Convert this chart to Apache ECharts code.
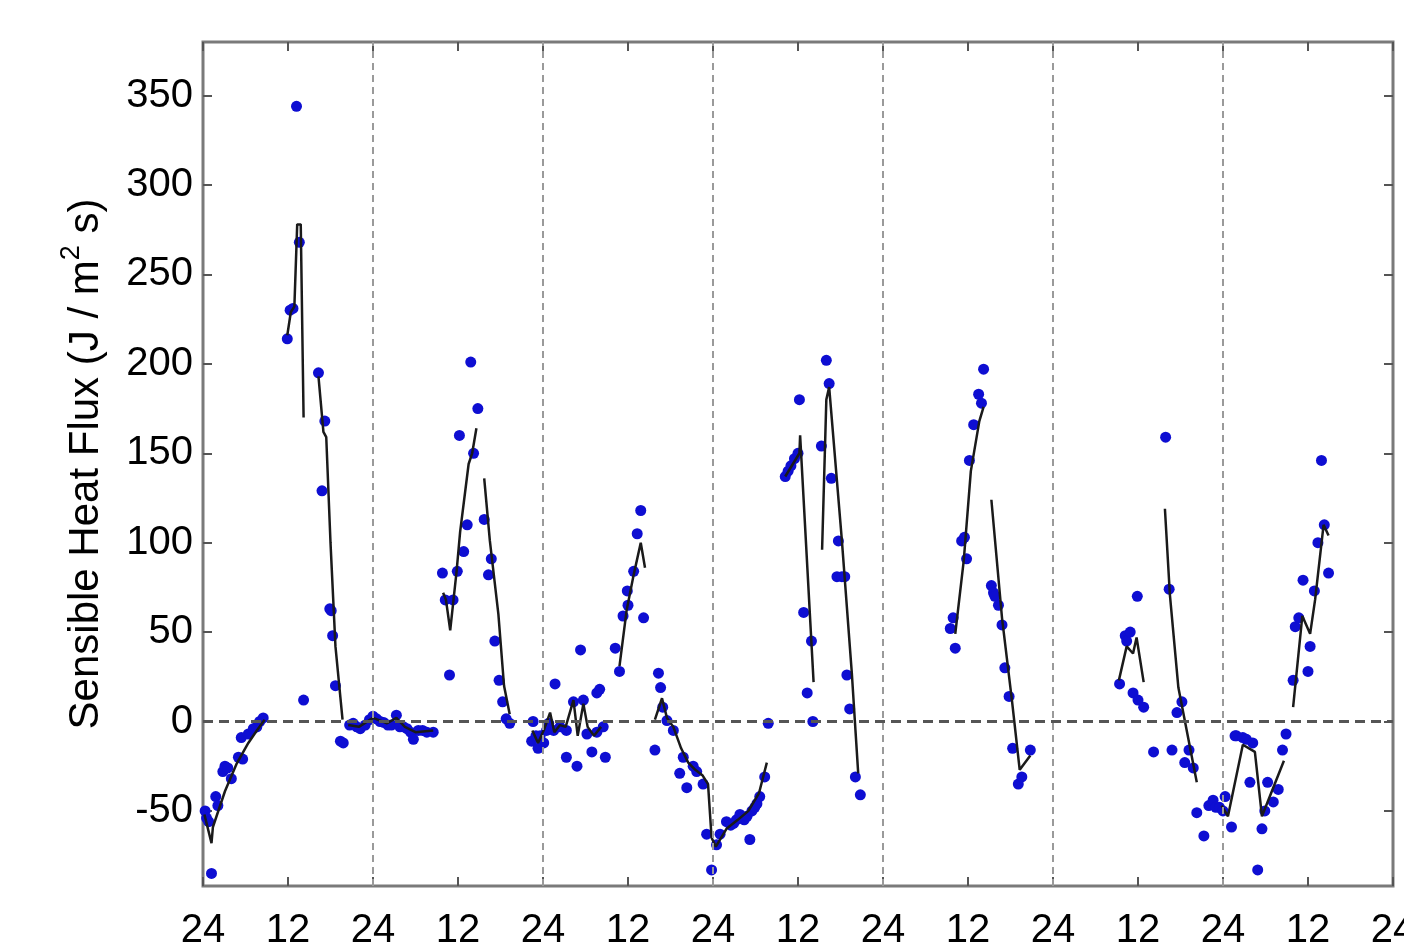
<!DOCTYPE html>
<html lang="en">
<head>
<meta charset="UTF-8">
<title>Sensible Heat Flux</title>
<script src="https://cdn.jsdelivr.net/npm/echarts@6/dist/echarts.min.js"></script>
<style>
    html, body { margin: 0; padding: 0; background: #fff; }
    #chart { width: 1404px; height: 950px; }
</style>
</head>
<body>
<div id="chart"></div>
<script>
// y ticks and day boundaries (hours from start)
var yTicks = [-50, 0, 50, 100, 150, 200, 250, 300, 350];
var dayLines = [24, 48, 72, 96, 120, 144];

// observed flux (blue dots): [hour, flux]
var obsDay1 = [[0.3,-50],[0.5,-54],[0.8,-56],[1.2,-85],[1.8,-42],[2.1,-47],[2.8,-28],[3.1,-25],[3.5,-26],[4.0,-32],
    [5.0,-20],[5.6,-21],[5.4,-9],[6.4,-7],[7.1,-4],[7.6,-3],[8.0,0],[8.5,2],
    [11.9,214],[12.3,230],[12.7,231],[13.2,344],[13.6,268],[14.2,12],[16.3,195],[16.8,129],[17.2,168],
    [17.9,63],[18.1,62],[18.3,48],[18.7,20],[19.4,-11],[19.8,-12]];
var obsDay2 = [[20.7,-2],[21.2,-1],[21.7,-3],[22.2,-4],[22.9,-2],[23.5,1],[24.0,3],[24.5,1.5],[25.0,0],[25.5,-0.5],
    [26.1,-2],[26.6,-2],[27.3,3.5],[27.8,-3],[28.3,-3],[28.8,-4],[29.3,-6],[29.7,-10],[30.4,-5],[31.0,-5],
    [31.6,-6],[32.5,-6],[33.8,83],[34.2,68],[34.8,26],[35.3,68],[35.9,84],[36.2,160],[36.8,95],[37.3,110],
    [37.8,201],[38.2,150],[38.8,175],[39.7,113],[40.3,82],[40.7,91],[41.2,45],[41.8,23],[42.3,11],[42.8,1.5],[43.3,-1]];
var obsDay3 = [[46.4,-11],[46.6,0],[47.0,-8],[47.3,-15],[47.6,-8],[48.1,-12],[48.5,-5],[48.8,-1],[49.5,-5],[49.7,21],
    [50.4,-3],[51.3,-5],[51.3,-20],[52.3,11],[52.8,-25],[53.3,40],[53.7,12],[54.2,-7],[54.9,-17],[55.6,-6],
    [55.6,16],[56.0,18],[56.5,-3],[56.8,-20],[58.2,41],[58.8,28],[59.3,59],[59.9,73],[60.0,65],[60.8,84],
    [61.3,105],[61.8,118],[62.2,58],[63.8,-16],[64.3,27],[64.6,19],[64.9,8],[65.5,0.5],[66.4,-5],[67.3,-29],
    [67.8,-20],[68.3,-37],[69.2,-25],[69.7,-28],[70.6,-35],[71.1,-63],[71.8,-83]];
var obsDay4 = [[72.5,-69],[73.0,-63],[73.9,-56],[74.5,-58],[74.9,-57],[75.3,-55],[75.8,-52],[76.0,-54],[76.4,-55],
    [76.8,-53],[77.2,-66],[77.5,-50],[77.9,-48],[78.2,-46],[78.6,-42],[79.3,-31],[79.8,-1],
    [82.2,137],[82.6,140],[83.0,143],[83.5,147],[84.0,150],[84.2,180],[84.8,61],[85.3,16],[85.9,45],[86.1,0],
    [87.3,154],[88.0,202],[88.4,189],[88.7,136],[89.5,81],[89.7,101],[90.2,81],[90.6,81],[90.9,26],[91.3,7],
    [92.1,-31],[92.8,-41]];
var obsDay5 = [[105.5,52],[105.9,58],[106.2,41],[107.1,101],[107.5,103],[107.8,91],[108.2,146],[108.8,166],
    [109.5,183],[109.9,178],[110.2,197],[111.3,76],[111.6,72],[111.8,70],[112.3,65],[112.8,54],[113.2,30],
    [113.8,14],[114.3,-15],[115.1,-35],[115.6,-31],[116.8,-16]];
var obsDay6 = [[129.4,21],[130.2,48],[130.4,45],[130.9,50],[131.3,16],[131.9,70],[132.0,12],[132.8,8],[134.2,-17],
    [135.9,159],[136.4,74],[136.8,-16],[137.5,5],[138.2,11],[138.6,-23],[139.2,-16],[139.8,-26],[140.3,-51],
    [141.3,-64],[142.0,-47],[142.6,-44],[143.0,-48],[143.5,-48],[144.0,-50],[144.3,-42]];
var obsDay7 = [[145.2,-59],[145.7,-8],[145.9,-8],[146.8,-9],[147.3,-10],[148.2,-12],[147.8,-34],[148.9,-83],
    [149.5,-60],[149.9,-50],[150.3,-34],[151.1,-45],[151.8,-38],[152.4,-16],[152.9,-7],[153.9,23],[154.2,53],
    [154.7,58],[155.3,79],[156.0,28],[156.3,42],[156.9,73],[157.4,100],[157.9,146],[158.3,110],[158.9,83]];

// model (black line), broken into pieces
var modelSegments = [
    [[0.2,-52],[1.2,-68],[1.4,-59],[3.1,-39],[4.7,-24],[6.4,-12],[7.6,-5],[8.7,1]],
    [[11.9,216],[12.4,229],[12.9,232],[13.3,278],[13.8,278],[14.2,170]],
    [[16.3,193],[17.0,162],[17.4,159],[18.0,100],[18.7,42],[19.7,1]],
    [[20.5,-2],[22.0,-3],[24.0,2],[26.0,-1],[27.3,2],[28.5,-3],[30.0,-6],[32.5,-5]],
    [[33.9,72],[34.3,68],[34.9,51],[35.8,84],[36.3,106],[37.5,144],[38.0,150],[38.6,164]],
    [[39.7,136],[40.5,101],[41.7,60],[42.5,20],[43.3,4]],
    [[46.5,-5],[47.3,-12],[48.2,-4],[49.0,5],[49.6,-6],[50.4,-2],[51.2,-3],[52.3,12],[52.9,-8],[53.7,10],
     [54.3,-3],[55.2,-8],[56.2,-3]],
    [[58.8,31],[59.8,62],[60.8,82],[61.8,100],[62.4,86]],
    [[63.8,1],[64.8,13],[65.5,2],[66.4,-3],[67.5,-15],[68.5,-23],[69.5,-27],[70.5,-30],[71.3,-35],[71.8,-65],
     [72.4,-70],[73.9,-60],[75.5,-55],[77.0,-50],[78.5,-40],[79.6,-23]],
    [[82.2,137],[84.2,150],[84.3,160],[86.2,22]],
    [[87.4,96],[88.0,180],[88.4,187],[90.2,101],[91.6,27],[92.5,-29]],
    [[106.2,49],[107.4,90],[108.4,140],[109.6,168],[110.2,176]],
    [[111.3,124],[112.8,58],[114.2,12],[115.3,-27],[116.8,-19]],
    [[129.3,23],[130.4,42],[131.3,38],[131.8,47],[132.8,22]],
    [[135.8,119],[136.5,71],[137.7,19],[140.3,-34]],
    [[143.8,-47],[144.7,-53],[146.8,-13],[148.5,-17],[149.5,-53],[152.6,-22]],
    [[153.9,8],[155.2,59],[156.3,49],[157.0,68],[158.2,110],[158.9,104]]
];

var FONT = 'Liberation Sans, Arial, Helvetica, sans-serif';

var obsAll = obsDay1.concat(obsDay2, obsDay3, obsDay4, obsDay5, obsDay6, obsDay7);
var modelData = [];
modelSegments.forEach(function (seg, i) {
    if (i > 0) modelData.push([seg[0][0] - 0.05, '-']);
    modelData = modelData.concat(seg);
});

var guideLines = dayLines.map(function (h) {
    return { xAxis: h, lineStyle: { color: '#9a9a9a', width: 2, type: [7, 5] } };
});
guideLines.push({ yAxis: 0, lineStyle: { color: '#555', width: 3, type: [10, 6] } });

var chart = echarts.init(document.getElementById('chart'), null, { renderer: 'canvas' });

function ticks(extra) {
    var t = { show: true, inside: true, length: 9, lineStyle: { color: '#555', width: 2 } };
    if (extra) t.customValues = extra;
    return t;
}

var option = {
    backgroundColor: '#fff',
    animation: false,
    grid: {
        left: 203, right: 11, top: 42, bottom: 64,
        outerBoundsMode: 'none', containLabel: false,
        show: true, borderColor: '#7a7a7a', borderWidth: 3, backgroundColor: 'transparent'
    },
    xAxis: [
        {
            type: 'value', min: 0, max: 168, interval: 12, position: 'bottom',
            axisLine: { show: false, onZero: false }, splitLine: { show: false },
            axisTick: ticks(),
            axisLabel: {
                margin: 25, fontSize: 40, color: '#000', fontFamily: FONT,
                showMinLabel: true, showMaxLabel: true, hideOverlap: false,
                formatter: function (v) { return v % 24 === 0 ? '24' : '12'; }
            }
        },
        {
            type: 'value', min: 0, max: 168, interval: 12, position: 'top',
            axisLine: { show: false, onZero: false }, splitLine: { show: false },
            axisTick: ticks(), axisLabel: { show: false }
        }
    ],
    yAxis: [
        {
            type: 'value', min: -92, max: 380, position: 'left',
            axisLine: { show: false, onZero: false }, splitLine: { show: false },
            axisTick: ticks(yTicks),
            axisLabel: { margin: 10, fontSize: 40, color: '#000', fontFamily: FONT, customValues: yTicks },
            name: 'Sensible Heat Flux (J / m{sup|2} s)',
            nameLocation: 'middle',
            nameGap: 70,
            nameTextStyle: {
                fontSize: 42, color: '#000', fontFamily: FONT, lineHeight: 57,
                rich: { sup: { fontSize: 27, lineHeight: 27, verticalAlign: 'top', color: '#000', fontFamily: FONT } }
            }
        },
        {
            type: 'value', min: -92, max: 380, position: 'right',
            axisLine: { show: false, onZero: false }, splitLine: { show: false },
            axisTick: ticks(yTicks),
            axisLabel: { show: false }
        }
    ],
    series: [
        {
            name: 'guides', type: 'line', data: [], z: 1, silent: true,
            markLine: { symbol: 'none', silent: true, label: { show: false }, data: guideLines }
        },
        {
            name: 'observed', type: 'scatter', data: obsAll, z: 3,
            symbol: 'circle', symbolSize: 11,
            itemStyle: { color: '#0e0ed2', opacity: 1 }
        },
        {
            name: 'model', type: 'line', data: modelData, z: 4,
            connectNulls: false, showSymbol: false, symbol: 'none',
            lineStyle: { color: '#1a1a1a', width: 2.5 }
        }
    ]
};

chart.setOption(option);
</script>
</body>
</html>
